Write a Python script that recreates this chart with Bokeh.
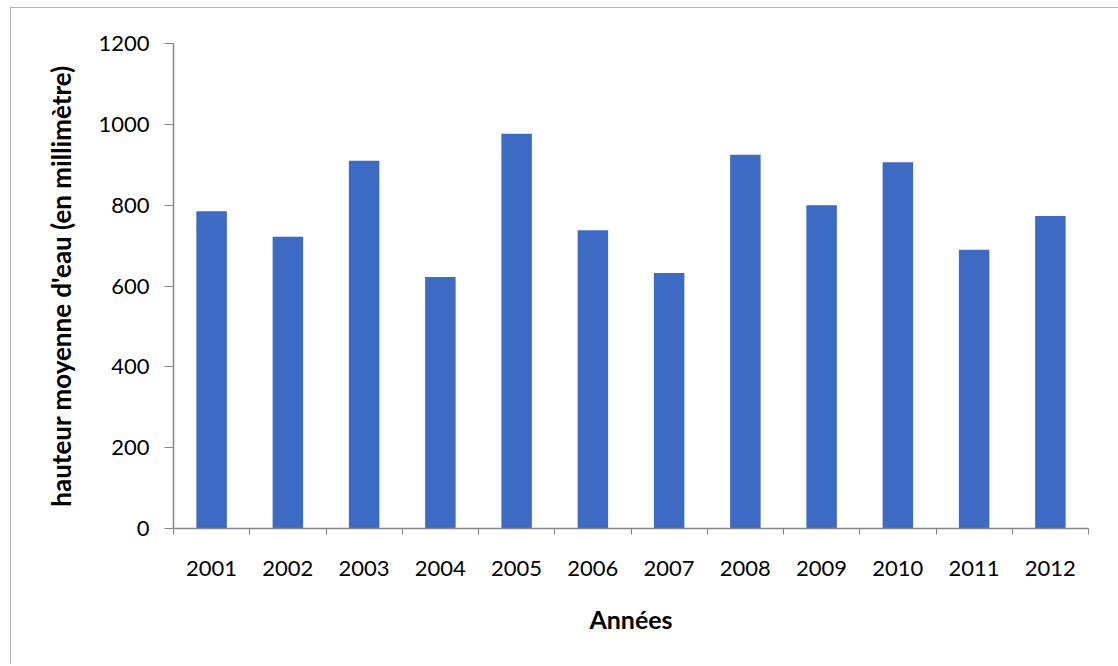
from bokeh.plotting import figure
from bokeh.models import Range1d, FixedTicker, ColumnDataSource
from bokeh.embed import file_html
from bokeh.resources import INLINE

years = [2001, 2002, 2003, 2004, 2005, 2006, 2007, 2008, 2009, 2010, 2011, 2012]
values = [785, 722, 910, 622, 977, 738, 632, 925, 800, 906, 690, 773]
y_ticks = [0, 200, 400, 600, 800, 1000, 1200]

x_pos = [i + 0.5 for i in range(len(years))]
source = ColumnDataSource(data=dict(x=x_pos, top=values, year=[str(y) for y in years]))

FONT = "Lato"
AXIS_COL = "#868686"

p = figure(width=1108, height=657, output_backend="svg", toolbar_location=None,
           x_range=Range1d(0, len(years)), y_range=Range1d(0, 1200),
           min_border_left=163, min_border_top=36, min_border_right=30, min_border_bottom=136)
p.margin = (7, 0, 0, 10)
p.styles = {"outline": "2px solid #9a9a9a", "outline-offset": "-2px"}
p.outline_line_color = None
p.grid.visible = False
p.background_fill_color = "white"
p.border_fill_color = "white"

p.vbar(x="x", top="top", width=0.4, bottom=0, source=source,
       fill_color="#3D6AC2", line_color=None)

# x axis
xa = p.xaxis[0]
xa.ticker = FixedTicker(ticks=x_pos, minor_ticks=list(range(len(years) + 1)))
xa.major_label_overrides = {x: str(y) for x, y in zip(x_pos, years)}
xa.major_tick_out = 0
xa.major_tick_in = 0
xa.minor_tick_out = 6
xa.minor_tick_in = 0
xa.minor_tick_line_color = AXIS_COL
xa.axis_line_color = AXIS_COL
xa.axis_line_width = 1.5
xa.major_label_text_font = FONT
xa.major_label_text_font_size = "22px"
xa.major_label_text_color = "black"
xa.major_label_standoff = 26
xa.axis_label = "Années"
xa.axis_label_text_font = FONT
xa.axis_label_text_font_style = "bold"
xa.axis_label_text_font_size = "25px"
xa.axis_label_text_color = "black"
xa.axis_label_standoff = 25

# y axis
ya = p.yaxis[0]
ya.ticker = FixedTicker(ticks=y_ticks)
ya.major_tick_out = 9
ya.major_tick_in = 0
ya.minor_tick_out = 0
ya.minor_tick_in = 0
ya.major_tick_line_color = AXIS_COL
ya.axis_line_color = AXIS_COL
ya.axis_line_width = 1.5
ya.major_label_text_font = FONT
ya.major_label_text_font_size = "22px"
ya.major_label_text_color = "black"
ya.major_label_standoff = 15
ya.axis_label = "hauteur moyenne d'eau (en millimètre)"
ya.axis_label_text_font = FONT
ya.axis_label_text_font_style = "bold"
ya.axis_label_text_font_size = "26px"
ya.axis_label_text_color = "black"
ya.axis_label_standoff = 18

open("out.html", "w").write(file_html(p, INLINE))
